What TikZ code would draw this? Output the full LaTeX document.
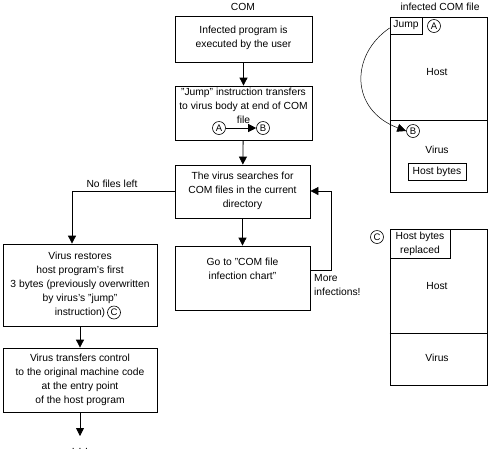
\documentclass[tikz,border=0pt]{standalone}
\usepackage{fontspec}
\setmainfont{Liberation Sans}
\usetikzlibrary{arrows.meta}
\begin{document}
\begin{tikzpicture}[x=1pt,y=-1pt,
  box/.style={draw,line width=0.8pt,rectangle,inner sep=0pt},
  txt/.style={align=center,font=\fontsize{10.3}{14}\selectfont,inner sep=0pt},
  circ/.style={draw,circle,line width=0.6pt,minimum size=13pt,inner sep=0pt,font=\fontsize{9.5}{9.5}\selectfont,fill=white},
  arr/.style={-{Triangle[length=8pt,width=8pt]},line width=0.8pt},
  ln/.style={line width=0.8pt}]
\useasboundingbox (0,0) rectangle (490,456);
% titles
\node[txt] (tcom) at (243,7) {COM};
\node[txt] (tinf) at (440,7) {infected COM file};
% flowchart boxes
\node[box,minimum width=137pt,minimum height=46pt] (b1) at (243.5,39) {};
\node[txt] (b1t) at (243.5,38) {Infected program is\\executed by the user};
\node[box,minimum width=137pt,minimum height=54pt] (b2) at (243.5,113) {};
\node[txt] (b2t) at (243.5,106) {"Jump" instruction transfers\\to virus body at end of COM\\file};
\node[circ] (ca) at (219,128) {A};
\node[circ] (cb) at (263,128) {B};
\draw[arr] (ca) -- (cb);
\node[box,minimum width=135pt,minimum height=53pt] (b3) at (242.5,191.5) {};
\node[txt] (b3t) at (242.5,191) {The virus searches for\\COM files in the current\\directory};
\node[box,minimum width=135pt,minimum height=64pt] (b4) at (242.5,278) {};
\node[txt] (b4t) at (242.5,269) {Go to "COM file\\infection chart"};
\node[box,minimum width=154pt,minimum height=82pt] (b5) at (80,285) {};
\node[txt] (b5t) at (80,285) {Virus restores\\host program's first\\3 bytes (previously overwritten\\by virus's "jump"\\instruction)\hspace{14pt}};
\node[circ] (cc) at (114,312.5) {C};
\node[box,minimum width=154pt,minimum height=64pt] (b6) at (80,380) {};
\node[txt] (b6t) at (80,380) {Virus transfers control\\to the original machine code\\at the entry point\\of the host program};
\coordinate (end) at (80,436);
\node[txt] (dots) at (80,449) {. . .};
% connectors
\draw[arr] (b1) -- (b2);
\draw[arr] (b2) -- (b3);
\draw[arr] (b3) -- (b4);
\draw[arr] (b3.west) -| (b5.north -| 72,0) coordinate (b5in);
\draw[arr] (b5) -- (b6);
\draw[arr] (b6) -- (end);
\draw[arr] (b4.east |- 0,270) -- (331,270) -- (331,191) -- (b3.east |- 0,191);
\node[txt] (lnf) at (112,184) {No files left};
\node[txt,align=left,anchor=west] (lmore) at (314,285) {More\\infections!};
% right panel 1
\node[box,minimum width=97pt,minimum height=175pt] (p1) at (438.5,104.5) {};
\draw[ln] (p1.west |- 0,120) -- (p1.east |- 0,120);
\node[box,minimum width=32pt,minimum height=17pt] (jump) at (406,25.5) {};
\node[txt] (jumpt) at (406,25.5) {Jump};
\node[circ] (pa) at (434,26) {A};
\node[txt] (host1) at (437,72) {Host};
\node[circ] (pb) at (413,131) {B};
\node[txt] (virus1) at (437,150) {Virus};
\node[box,minimum width=58pt,minimum height=17pt] (hb) at (437,171.5) {};
\node[txt] (hbt) at (437,171.5) {Host bytes};
\draw[-{Triangle[length=9pt,width=8pt]},line width=0.5pt] (jump.west |- 0,28) .. controls (350,55) and (350,110) .. (pb.west);
% right panel 2
\node[box,minimum width=97pt,minimum height=156pt] (p2) at (438.5,307) {};
\draw[ln] (p2.west |- 0,333) -- (p2.east |- 0,333);
\node[box,minimum width=60pt,minimum height=29pt] (hbr) at (420,243.5) {};
\node[txt] (hbrt) at (420,243.5) {Host bytes\\replaced};
\node[circ] (pc) at (377,237) {C};
\node[txt] (host2) at (437,286) {Host};
\node[txt] (virus2) at (437,358) {Virus};
\end{tikzpicture}
\end{document}
